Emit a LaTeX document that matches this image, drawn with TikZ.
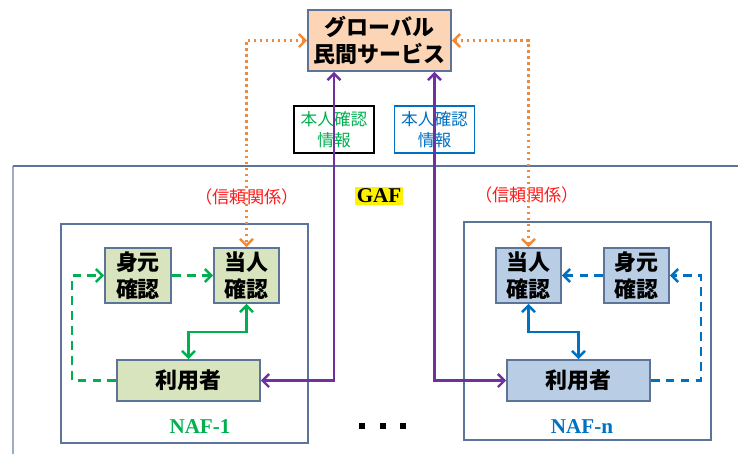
\documentclass[tikz,border=0pt]{standalone}
\usepackage{fontspec}
\setmainfont{Liberation Serif}
\newfontfamily\jp{Noto Sans CJK JP}
\usetikzlibrary{arrows.meta}

\definecolor{frameblue}{HTML}{5B7497}
\definecolor{boxgreen}{HTML}{D7E4BD}
\definecolor{boxblue}{HTML}{B9CDE5}
\definecolor{boxpeach}{HTML}{FBD5B5}
\definecolor{linegreen}{HTML}{00B050}
\definecolor{lineblue}{HTML}{0070C0}
\definecolor{linepurple}{HTML}{7030A0}
\definecolor{lineorange}{HTML}{F08A3A}

\tikzset{
  tip/.style={{Straight Barb[length=1.3mm,width=2.6mm]}-{Straight Barb[length=1.3mm,width=2.6mm]}},
  endtip/.style={-{Straight Barb[length=1.3mm,width=2.6mm]}},
  gbox/.style={draw=frameblue, line width=0.9pt, fill=boxgreen, align=center, inner sep=0pt,
    font=\jp\bfseries\fontsize{12.5}{15}\selectfont},
  bbox/.style={gbox, fill=boxblue},
  infobox/.style={draw, line width=0.9pt, fill=white, align=center, inner sep=0pt,
    minimum width=16mm, minimum height=9.4mm, font=\jp\fontsize{9.5}{12}\selectfont},
  trustlbl/.style={text=red!90!white, font=\jp\fontsize{9.8}{12}\selectfont},
  naflbl/.style={font=\bfseries\fontsize{12}{14}\selectfont},
}

\begin{document}
\begin{tikzpicture}[x=0.02cm, y=-0.02cm]
	%%%%% START %%%%%
	\useasboundingbox (0,0) rectangle (738,454);
	
	% GAF frame
	\draw[frameblue!60, line width=0.8pt] (13,454) -- (13,166);
	\draw[frameblue, line width=1pt] (13,166) -- (738,166);
	\node[fill=yellow, inner sep=1pt, font=\bfseries\fontsize{12}{14}\selectfont] (gaf) at (379,196) {GAF};
	
	% NAF frames
	\draw[frameblue, line width=1pt] (61,224) rectangle (308,443);
	\draw[frameblue, line width=1pt] (464,222) rectangle (711,440);
	
	% global service
	\node[gbox, fill=boxpeach, minimum width=28.6mm, minimum height=12.2mm] (gsvc) at (379.5,40.5) {グローバル\\民間サービス};
	
	% exchanged info
	\node[infobox, text=linegreen] (info1) at (334,129.5) {本人確認\\情報};
	\node[infobox, draw=lineblue, text=lineblue] (info2) at (434.5,129.5) {本人確認\\情報};
	
	% NAF-1
	\node[gbox, minimum width=13.2mm, minimum height=11mm] (id1) at (138,275.5) {身元\\確認};
	\node[gbox, minimum width=13mm, minimum height=11mm] (auth1) at (246.5,275.5) {当人\\確認};
	\node[gbox, minimum width=28.6mm, minimum height=8.2mm] (user1) at (188.5,380.5) {利用者};
	\node[naflbl, text=linegreen] (naf1) at (200,427) {NAF-1};
	\node[trustlbl] (trust1) at (247,197) {（信頼関係）};
	
	% NAF-n
	\node[bbox, minimum width=13mm, minimum height=11mm] (authn) at (528.5,275.5) {当人\\確認};
	\node[bbox, minimum width=13mm, minimum height=11mm] (idn) at (636.5,275.5) {身元\\確認};
	\node[bbox, minimum width=28.6mm, minimum height=8.2mm] (usern) at (578.5,380.5) {利用者};
	\node[naflbl, text=lineblue] (nafn) at (582,427) {NAF-n};
	\node[trustlbl] (trustn) at (527,195) {（信頼関係）};
	
	% trust links
	\draw[tip, lineorange, line width=1.4pt, dotted] (gsvc.west) -| (auth1.north);
	\draw[tip, lineorange, line width=1.4pt, dotted] (gsvc.east) -| (authn.north);
	
	% identity info flow
	\draw[tip, linepurple, line width=1.4pt] (user1.east) -| (info1.center |- gsvc.south);
	\draw[tip, linepurple, line width=1.4pt] (usern.west) -| (info2.center |- gsvc.south);
	
	% inside NAF-1
	\draw[endtip, linegreen, line width=1.4pt, dash pattern=on 5pt off 3.5pt] (user1.west) -- ++(-44,0) |- (id1.west);
	\draw[endtip, linegreen, line width=1.4pt, dash pattern=on 5pt off 3.5pt] (id1.east) -- (auth1.west);
	\draw[tip, linegreen, line width=1.4pt] (auth1.south) -- ++(0,28) -| (user1.north);
	
	% inside NAF-n
	\draw[endtip, lineblue, line width=1.4pt, dash pattern=on 5pt off 3.5pt] (usern.east) -- ++(50,0) |- (idn.east);
	\draw[endtip, lineblue, line width=1.4pt, dash pattern=on 5pt off 3.5pt] (idn.west) -- (authn.east);
	\draw[tip, lineblue, line width=1.4pt] (authn.south) -- ++(0,28) -| (usern.north);
	
	% more NAFs
	\foreach \x in {362,383,403}
		\fill (\x-3,423) rectangle (\x+3,429);
	
	%%%%% END %%%%%
\end{tikzpicture}
\end{document}
